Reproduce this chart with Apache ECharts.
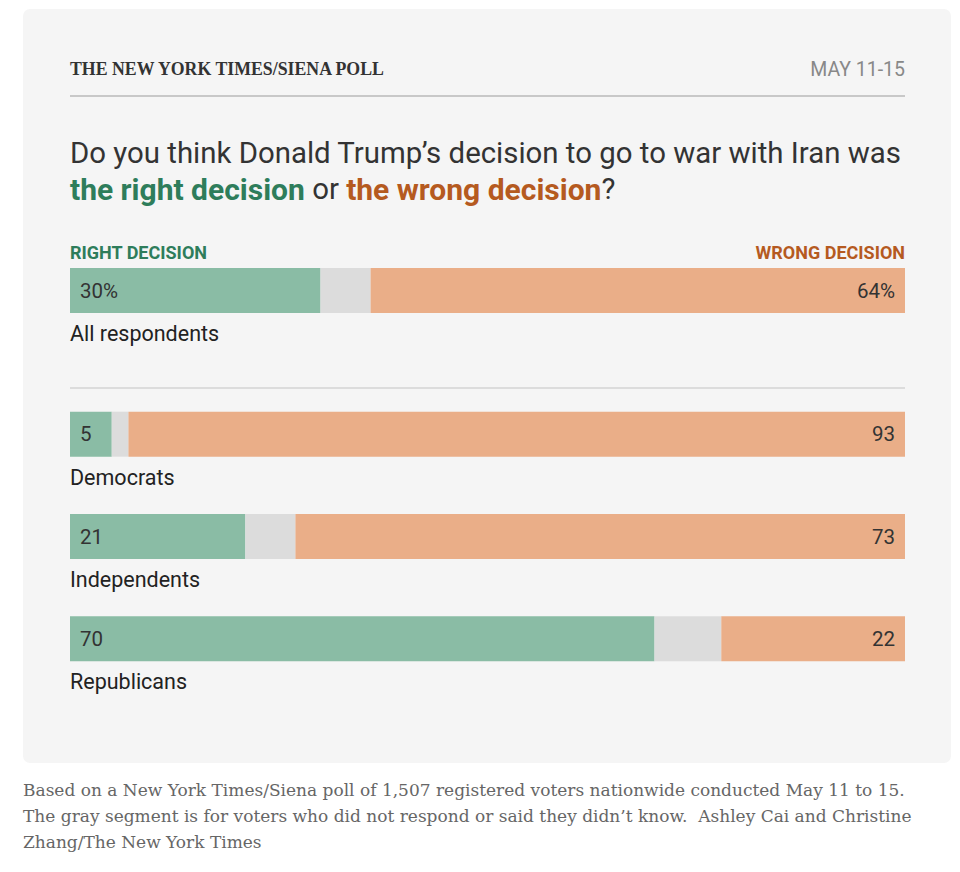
<!DOCTYPE html>
<html>
<head>
<meta charset="utf-8">
<script src="https://cdn.jsdelivr.net/npm/echarts@6/dist/echarts.min.js"></script>
<style>
  html, body { margin: 0; padding: 0; background: #fff; }
  #chart { width: 960px; height: 872px; }
</style>
</head>
<body>
<div id="chart"></div>
<script>
// poll results, percent
const allCategories = ['All respondents']
const allRight = [30]
const allUnsure = [6]
const allWrong = [64]

const groupCategories = ['Democrats', 'Independents', 'Republicans']
const groupRight = [5, 21, 70]
const groupUnsure = [2, 6, 8]
const groupWrong = [93, 73, 22]

const GREEN = '#8abca5'
const GRAY = '#dcdcdc'
const ORANGE = '#eaae88'
const GREEN_TEXT = '#2e7d5b'
const ORANGE_TEXT = '#b55a1f'
const SANS = 'Roboto, "Liberation Sans", sans-serif'
const SERIF = '"Liberation Serif", "DejaVu Serif", serif'
const BODY_SERIF = '"DejaVu Serif", "Liberation Serif", serif'

const chart = echarts.init(document.getElementById('chart'), null, { renderer: 'svg' })

const categoryAxis = (gridIndex, data) => ({
    type: 'category',
    gridIndex,
    data,
    inverse: true,
    axisLine: { show: false },
    axisTick: { show: false },
    axisLabel: {
        inside: true,
        margin: 0,
        align: 'left',
        verticalAlign: 'top',
        padding: [32, 0, 0, 0],
        fontFamily: SANS,
        fontSize: 21.5,
        color: '#222'
    }
})

const valueAxis = (gridIndex) => ({
    type: 'value',
    gridIndex,
    min: 0,
    max: 100,
    show: false
})

const bar = (name, xi, stack, data, color, label) => ({
    name,
    type: 'bar',
    xAxisIndex: xi,
    yAxisIndex: xi,
    stack,
    barWidth: 45,
    data,
    itemStyle: { color },
    label,
    silent: true
})

const valueLabel = (position, suffix) => ({
    show: true,
    position,
    distance: 10,
    formatter: '{c}' + suffix,
    fontFamily: SANS,
    fontSize: 20.5,
    color: '#333'
})

const titleRich = {
    a: { fontFamily: SANS, fontSize: 29.4, fontWeight: 'normal', color: '#333', lineHeight: 36 },
    g: { fontFamily: SANS, fontSize: 30, fontWeight: 'bold', color: GREEN_TEXT, lineHeight: 36 },
    o: { fontFamily: SANS, fontSize: 30, fontWeight: 'bold', color: ORANGE_TEXT, lineHeight: 36 }
}

chart.setOption({
    animation: false,
    backgroundColor: '#fff',
    title: [
        {
            text: 'THE NEW YORK TIMES/SIENA POLL',
            left: 70, top: 60, padding: 0,
            textStyle: { fontFamily: SERIF, fontWeight: 'bold', fontSize: 17.8, color: '#333' }
        },
        {
            text: 'MAY 11-15',
            right: 55, top: 59, padding: 0,
            textStyle: { fontFamily: SANS, fontWeight: 'normal', fontSize: 19.5, color: '#888' }
        },
        {
            text: '{a|Do you think Donald Trump\u2019s decision to go to war with Iran was}\n' +
                  '{g|the right decision}{a| or }{o|the wrong decision}{a|?}',
            left: 70, top: 135, padding: 0,
            textStyle: { fontWeight: 'normal', rich: titleRich }
        },
        {
            text: 'RIGHT DECISION',
            left: 70, top: 243, padding: 0,
            textStyle: { fontFamily: SANS, fontWeight: 'bold', fontSize: 18, color: GREEN_TEXT }
        },
        {
            text: 'WRONG DECISION',
            right: 55, top: 243, padding: 0,
            textStyle: { fontFamily: SANS, fontWeight: 'bold', fontSize: 18, color: ORANGE_TEXT }
        },
        {
            text: 'Based on a New York Times/Siena poll of 1,507 registered voters nationwide conducted May 11 to 15.\n' +
                  'The gray segment is for voters who did not respond or said they didn\u2019t know.  Ashley Cai and Christine\n' +
                  'Zhang/The New York Times',
            left: 23, top: 777, padding: 0,
            textStyle: { fontFamily: BODY_SERIF, fontWeight: 'normal', fontSize: 17, lineHeight: 26, color: '#666' }
        }
    ],
    graphic: [
        {
            type: 'rect', z: -10, silent: true,
            shape: { x: 23, y: 9, width: 928, height: 754, r: 7 },
            style: { fill: '#f5f5f5' }
        },
        {
            type: 'line', silent: true,
            shape: { x1: 70, y1: 96, x2: 905, y2: 96 },
            style: { stroke: '#c8c8c8', lineWidth: 2 }
        },
        {
            type: 'line', silent: true,
            shape: { x1: 70, y1: 388, x2: 905, y2: 388 },
            style: { stroke: '#dcdcdc', lineWidth: 2 }
        }
    ],
    grid: [
        { left: 70, right: 55, top: 268, height: 45 },
        { left: 70, right: 55, top: 383, height: 307 }
    ],
    xAxis: [valueAxis(0), valueAxis(1)],
    yAxis: [categoryAxis(0, allCategories), categoryAxis(1, groupCategories)],
    series: [
        bar('Right decision', 0, 'all', allRight, GREEN, valueLabel('insideLeft', '%')),
        bar('No answer', 0, 'all', allUnsure, GRAY, { show: false }),
        bar('Wrong decision', 0, 'all', allWrong, ORANGE, valueLabel('insideRight', '%')),
        bar('Right decision', 1, 'grp', groupRight, GREEN, valueLabel('insideLeft', '')),
        bar('No answer', 1, 'grp', groupUnsure, GRAY, { show: false }),
        bar('Wrong decision', 1, 'grp', groupWrong, ORANGE, valueLabel('insideRight', ''))
    ]
})
</script>
</body>
</html>
